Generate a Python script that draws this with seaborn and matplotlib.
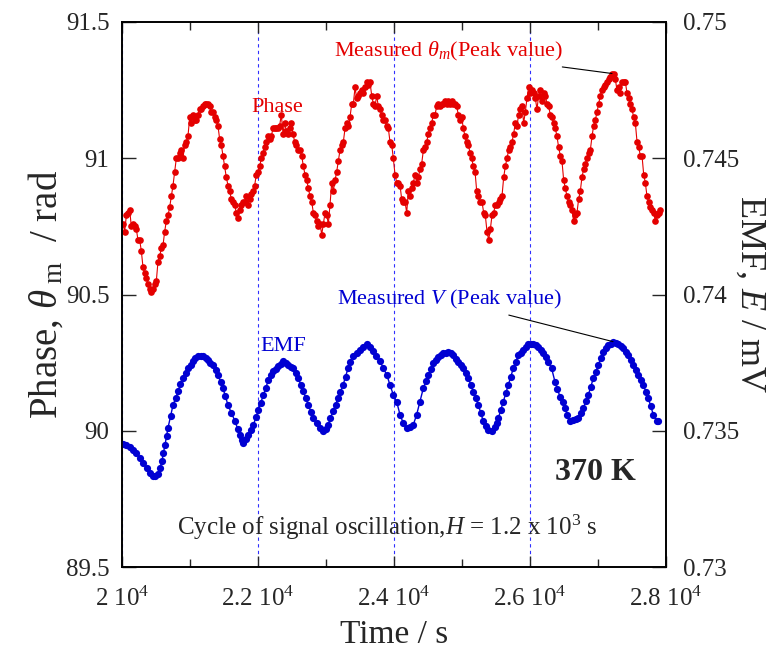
import numpy as np
import pandas as pd
import seaborn as sns
import matplotlib.pyplot as plt
from matplotlib.ticker import MultipleLocator, FuncFormatter

# phase data, time in s, phase in rad
phase_time = [20015, 20039, 20064, 20088, 20113, 20137, 20162, 20186, 20211, 20235, 20260, 20284, 20309, 20333, 20358,
              20382, 20407, 20431, 20456, 20480, 20505, 20529, 20554, 20578, 20603, 20627, 20652, 20676, 20701, 20725,
              20750, 20774, 20799, 20823, 20848, 20872, 20897, 20921, 20946, 20970, 20995, 21019, 21044, 21068, 21093,
              21117, 21142, 21166, 21191, 21215, 21240, 21264, 21289, 21313, 21338, 21362, 21387, 21411, 21436, 21460,
              21485, 21510, 21534, 21559, 21583, 21608, 21632, 21657, 21681, 21706, 21730, 21755, 21779, 21804, 21828,
              21853, 21877, 21902, 21926, 21951, 21975, 22000, 22024, 22049, 22073, 22098, 22122, 22147, 22171, 22196,
              22220, 22245, 22269, 22294, 22318, 22343, 22368, 22392, 22417, 22441, 22466, 22490, 22515, 22539, 22564,
              22588, 22613,
              22643, 22667, 22692, 22716, 22741, 22765, 22790, 22814, 22839, 22863, 22888, 22912, 22937, 22961, 22986,
              23010, 23035, 23059, 23084, 23108, 23133, 23157, 23182, 23206, 23231, 23255, 23280, 23304, 23329, 23353,
              23378, 23402, 23427, 23451, 23476, 23500, 23525, 23549, 23574, 23598, 23623, 23647, 23672, 23696, 23721,
              23745, 23770, 23794, 23819, 23843, 23868, 23892, 23917, 23941, 23966, 23990, 24015, 24040, 24064, 24089,
              24113, 24138, 24162, 24187, 24211, 24236, 24260, 24285, 24309, 24334, 24358, 24383, 24407, 24432, 24456,
              24481, 24505, 24530, 24554, 24579, 24603, 24628, 24652, 24677, 24701, 24726, 24750, 24775, 24799, 24824,
              24848, 24873, 24897, 24922, 24946, 24971, 24995, 25020, 25044, 25069, 25093, 25118, 25142, 25167, 25192,
              25216, 25241, 25265,
              25294, 25319, 25343, 25368, 25392, 25417, 25441, 25466, 25490, 25515, 25539, 25564, 25588, 25613, 25637,
              25662, 25686, 25711, 25735, 25760, 25784, 25809, 25833, 25858, 25882, 25907, 25931, 25956, 25980, 26005,
              26029, 26054, 26078, 26103, 26127, 26152, 26176, 26201, 26225, 26250, 26274, 26299, 26323, 26348, 26372,
              26397, 26421, 26446, 26470, 26495, 26519, 26544, 26568, 26593, 26617, 26642, 26666, 26691, 26715, 26740,
              26764, 26789, 26814, 26838, 26863, 26887, 26912, 26936, 26961, 26985, 27010, 27034, 27059, 27083, 27108,
              27132, 27157, 27181, 27206, 27230, 27255, 27279, 27304, 27328, 27353, 27377, 27402, 27426, 27451, 27475,
              27500, 27525, 27549, 27574, 27598, 27623, 27647, 27672, 27696, 27721, 27745, 27770, 27794, 27819, 27843,
              27868, 27892, 27917]
phase_rad = [90.76, 90.73, 90.79, 90.80, 90.81, 90.75, 90.76, 90.75, 90.74, 90.70, 90.70, 90.66, 90.60, 90.58, 90.56,
             90.54, 90.52, 90.51, 90.52, 90.54, 90.55, 90.62, 90.64, 90.67, 90.68, 90.73, 90.77, 90.79, 90.82, 90.86,
             90.90, 90.95, 91.00, 91.00, 91.02, 91.03, 91.00, 91.05, 91.06, 91.08, 91.15, 91.13, 91.16, 91.14, 91.14,
             91.16, 91.18, 91.18, 91.19, 91.20, 91.20, 91.20, 91.19, 91.17, 91.17, 91.15, 91.14, 91.12, 91.07, 91.05,
             91.01, 90.97, 90.93, 90.90, 90.88, 90.85, 90.84, 90.83, 90.80, 90.78, 90.81, 90.83, 90.84, 90.84, 90.86,
             90.83, 90.85, 90.87, 90.88, 90.90, 90.94, 90.95, 90.97, 91.00, 91.02, 91.04, 91.06, 91.08, 91.07, 91.08,
             91.11, 91.11, 91.11, 91.11, 91.12, 91.16, 91.09, 91.13, 91.10, 91.09, 91.11, 91.13, 91.09, 91.06, 91.05,
             91.03, 91.03,
             91.01, 90.97, 90.94, 90.92, 90.89, 90.86, 90.84, 90.80, 90.79, 90.77, 90.75, 90.76, 90.72, 90.76, 90.80,
             90.79, 90.76, 90.83, 90.91, 90.88, 90.92, 90.95, 90.99, 91.03, 91.05, 91.06, 91.11, 91.13, 91.12, 91.15,
             91.20, 91.20, 91.26, 91.22, 91.23, 91.24, 91.25, 91.24, 91.26, 91.28, 91.27, 91.28, 91.23, 91.20, 91.19,
             91.23, 91.19, 91.18, 91.16, 91.14, 91.14, 91.12, 91.11, 91.06, 91.05, 91.00, 90.94, 90.91, 90.91, 90.90,
             90.85, 90.84, 90.84, 90.80, 90.88, 90.86, 90.89, 90.91, 90.94, 90.91, 90.93, 90.96, 90.98, 91.03, 91.04,
             91.06, 91.09, 91.11, 91.13, 91.16, 91.16, 91.19, 91.20, 91.19, 91.20, 91.20, 91.21, 91.20, 91.21, 91.20,
             91.21, 91.20, 91.20, 91.19, 91.16, 91.14, 91.15, 91.11, 91.08, 91.06, 91.05, 91.02, 91.00, 90.97, 90.95,
             90.88, 90.86, 90.84,
             90.84, 90.80, 90.79, 90.73, 90.70, 90.74, 90.79, 90.80, 90.83, 90.83, 90.84, 90.85, 90.86, 90.93, 90.97,
             91.00, 91.03, 91.04, 91.06, 91.09, 91.13, 91.12, 91.16, 91.18, 91.19, 91.13, 91.17, 91.22, 91.26, 91.24,
             91.25, 91.24, 91.22, 91.18, 91.23, 91.25, 91.21, 91.24, 91.23, 91.20, 91.19, 91.16, 91.15, 91.13, 91.11,
             91.08, 91.04, 91.01, 90.99, 90.92, 90.89, 90.86, 90.84, 90.83, 90.81, 90.77, 90.79, 90.80, 90.85, 90.88,
             90.93, 90.96, 90.98, 91.00, 91.02, 91.03, 91.08, 91.12, 91.14, 91.17, 91.20, 91.23, 91.25, 91.26, 91.27,
             91.28, 91.29, 91.30, 91.31, 91.31, 91.29, 91.25, 91.26, 91.24, 91.28, 91.28, 91.28, 91.24, 91.22, 91.20,
             91.18, 91.15, 91.13, 91.06, 91.04, 91.01, 91.01, 90.94, 90.91, 90.86, 90.84, 90.82, 90.81, 90.80, 90.77,
             90.79, 90.80, 90.81]

# EMF data, time in s, EMF in mV
emf_time = [20015, 20064, 20118, 20162, 20211, 20265, 20309, 20368, 20410, 20456, 20490, 20530, 20560, 20588, 20610,
            20632, 20655, 20676, 20715, 20750, 20790, 20824, 20860, 20897, 20935, 20971, 21010, 21044, 21080, 21118,
            21155, 21191, 21228, 21265, 21300, 21338, 21375, 21412, 21450, 21485, 21520, 21559, 21610, 21662, 21700,
            21735, 21760, 21784, 21820, 21858, 21895, 21932, 21970, 22005, 22040, 22079, 22115, 22152, 22190, 22226,
            22262, 22299, 22336, 22373, 22410, 22446, 22483, 22520, 22556, 22593, 22630, 22667, 22703, 22740, 22777,
            22814, 22863, 22912, 22956, 22993, 23030, 23066, 23103, 23140, 23177, 23213, 23250, 23287, 23324, 23360,
            23397, 23450, 23500, 23550, 23603, 23647, 23691, 23742, 23794, 23845, 23897, 23941, 23990, 24039, 24088,
            24137, 24186, 24235, 24284, 24333, 24382, 24431, 24468, 24505, 24541, 24578, 24615, 24652, 24688, 24725,
            24762, 24799, 24835, 24872, 24909, 24946, 24982, 25019, 25056, 25093, 25130, 25166, 25203, 25240, 25277,
            25314, 25350, 25387, 25436, 25485, 25510, 25534, 25571, 25608, 25645, 25681, 25718, 25755, 25792, 25828,
            25865, 25902, 25938, 25975, 26012, 26049, 26085, 26122, 26159, 26196, 26232, 26269, 26318, 26367, 26404,
            26441, 26478, 26514, 26551, 26588, 26637, 26674, 26710, 26747, 26784, 26821, 26858, 26894, 26931, 26968,
            27005, 27041, 27078, 27115, 27152, 27188, 27225, 27262, 27299, 27335, 27372, 27409, 27446, 27482, 27519,
            27556, 27593, 27630, 27667, 27703, 27740, 27777, 27814, 27863, 27887]
emf_mV = [0.73450, 0.73449, 0.73440, 0.73431, 0.73419, 0.73400, 0.73382, 0.73362, 0.73345, 0.73335, 0.73334, 0.73340,
          0.73365, 0.73389, 0.73420, 0.73447, 0.73480, 0.73510, 0.73555, 0.73594, 0.73620, 0.73645, 0.73670, 0.73692,
          0.73712, 0.73729, 0.73743, 0.73755, 0.73766, 0.73773, 0.73775, 0.73773, 0.73767, 0.73758, 0.73750, 0.73740,
          0.73722, 0.73703, 0.73680, 0.73656, 0.73627, 0.73594, 0.73565, 0.73535, 0.73508, 0.73484, 0.73465, 0.73455,
          0.73470, 0.73484, 0.73502, 0.73521, 0.73550, 0.73576, 0.73603, 0.73630, 0.73658, 0.73685, 0.73703, 0.73718,
          0.73728, 0.73736, 0.73746, 0.73755, 0.73748, 0.73740, 0.73735, 0.73729, 0.73712, 0.73692, 0.73668, 0.73645,
          0.73620, 0.73594, 0.73570, 0.73547, 0.73528, 0.73510, 0.73499, 0.73508, 0.73521, 0.73546, 0.73572, 0.73596,
          0.73619, 0.73643, 0.73667, 0.73698, 0.73729, 0.73753, 0.73776, 0.73786, 0.73795, 0.73807, 0.73820, 0.73806,
          0.73791, 0.73773, 0.73755, 0.73729, 0.73703, 0.73668, 0.73632, 0.73607, 0.73559, 0.73528, 0.73510, 0.73512,
          0.73522, 0.73559, 0.73607, 0.73656, 0.73681, 0.73705, 0.73726, 0.73747, 0.73760, 0.73772, 0.73778, 0.73784,
          0.73787, 0.73790, 0.73784, 0.73777, 0.73765, 0.73753, 0.73741, 0.73729, 0.73711, 0.73692, 0.73668, 0.73644,
          0.73620, 0.73595, 0.73565, 0.73534, 0.73519, 0.73504, 0.73498, 0.73512, 0.73529, 0.73546, 0.73577, 0.73607,
          0.73638, 0.73668, 0.73699, 0.73729, 0.73754, 0.73778, 0.73787, 0.73796, 0.73807, 0.73817, 0.73819, 0.73820,
          0.73814, 0.73808, 0.73796, 0.73784, 0.73769, 0.73753, 0.73729, 0.73680, 0.73652, 0.73625, 0.73604, 0.73583,
          0.73559, 0.73534, 0.73540, 0.73543, 0.73546, 0.73565, 0.73583, 0.73608, 0.73632, 0.73662, 0.73692, 0.73717,
          0.73741, 0.73766, 0.73790, 0.73802, 0.73814, 0.73819, 0.73824, 0.73822, 0.73820, 0.73811, 0.73802, 0.73790,
          0.73778, 0.73760, 0.73741, 0.73723, 0.73705, 0.73686, 0.73668, 0.73644, 0.73619, 0.73589, 0.73559, 0.73534,
          0.73534]

cycle_marks = [20000, 22000, 24000, 26000, 28000]
phase_peak = (27206, 91.311)
emf_peak = (27221, 0.73827)

red = '#e40000'
blue = '#0000d2'

sns.set_style('ticks')
plt.rcParams['font.family'] = ['Liberation Serif', 'DejaVu Serif']
plt.rcParams['mathtext.fontset'] = 'custom'
plt.rcParams['mathtext.rm'] = 'Liberation Serif'
plt.rcParams['mathtext.it'] = 'Liberation Serif:italic'
plt.rcParams['mathtext.bf'] = 'Liberation Serif:bold'

fig = plt.figure(figsize=(7.83, 6.56), dpi=100)
ax = fig.add_axes([122 / 783, 1 - 567 / 656, 544 / 783, 545 / 656])
ax2 = ax.twinx()

# dotted guides every cycle
for t in cycle_marks:
    ax.axvline(t, color='#3030ff', ls=(0, (3, 3)), lw=0.8, zorder=0)

df_p = pd.DataFrame({'t': phase_time, 'phase': phase_rad})
df_e = pd.DataFrame({'t': emf_time, 'emf': emf_mV})
sns.lineplot(data=df_p, x='t', y='phase', ax=ax, color=red, lw=0.8, marker='o', markersize=4.8,
             markeredgewidth=0, markerfacecolor=red, sort=False, estimator=None)
sns.lineplot(data=df_e, x='t', y='emf', ax=ax2, color=blue, lw=1.0, marker='o', markersize=5.2,
             markeredgewidth=0, markerfacecolor=blue, sort=False, estimator=None)

ax.set_xlim(20000, 28000)
ax.set_ylim(89.5, 91.5)
ax2.set_ylim(0.73, 0.75)
ax.xaxis.set_major_locator(MultipleLocator(2000))
ax.xaxis.set_minor_locator(MultipleLocator(1000))
ax.yaxis.set_major_locator(MultipleLocator(0.5))
ax2.yaxis.set_major_locator(MultipleLocator(0.005))
ax.xaxis.set_major_formatter(FuncFormatter(lambda v, p: f"{v / 1e4:g} 10$^4$"))
ax.yaxis.set_major_formatter(FuncFormatter(lambda v, p: f"{v:g}"))
ax2.yaxis.set_major_formatter(FuncFormatter(lambda v, p: f"{v:g}"))

ax.tick_params(axis='x', which='major', direction='in', length=8, width=1, top=True, labelsize=18, pad=14)
ax.tick_params(axis='x', which='minor', direction='in', length=6, width=1, top=True)
ax.tick_params(axis='y', direction='in', length=10, width=1, right=False, labelsize=18, pad=9)
ax2.tick_params(axis='y', direction='in', length=10, width=1, labelsize=18, pad=12)
for a in (ax, ax2):
    for s in a.spines.values():
        s.set_linewidth(1.2)
        s.set_color('black')

ax.set_xlabel('Time / s', fontsize=24, labelpad=6)
ax.set_ylabel(r'Phase, $\theta_{\ \rm m}$  / rad', fontsize=28, labelpad=0)
ax2.set_ylabel(r'EMF, $E$ / mV', fontsize=26, rotation=270, labelpad=20)

ax.text(0.285, 0.844, 'Phase', color=red, fontsize=16, ha='center', va='center', transform=ax.transAxes)
ax.text(0.296, 0.404, 'EMF', color=blue, fontsize=16, ha='center', va='center', transform=ax.transAxes)
ax.annotate(r'Measured $\theta_m$(Peak value)', xy=phase_peak, xytext=(0.811, 0.945),
            textcoords='axes fraction', color=red, fontsize=16, ha='right', va='center',
            arrowprops=dict(arrowstyle='-', color='black', lw=0.8, shrinkA=1, shrinkB=0))
ax2.annotate(r'Measured $V$ (Peak value)', xy=emf_peak, xytext=(0.809, 0.490),
             textcoords='axes fraction', color=blue, fontsize=16, ha='right', va='center',
             arrowprops=dict(arrowstyle='-', color='black', lw=0.8, shrinkA=1, shrinkB=0))
ax.text(0.87, 0.174, '370 K', fontsize=23, fontweight='bold', ha='center', va='center', transform=ax.transAxes)
ax.text(0.487, 0.073, r'Cycle of signal oscillation,$H$ = 1.2 x 10$^3$ s', fontsize=18,
        ha='center', va='center', transform=ax.transAxes)

fig.savefig('out.png', dpi=100)
